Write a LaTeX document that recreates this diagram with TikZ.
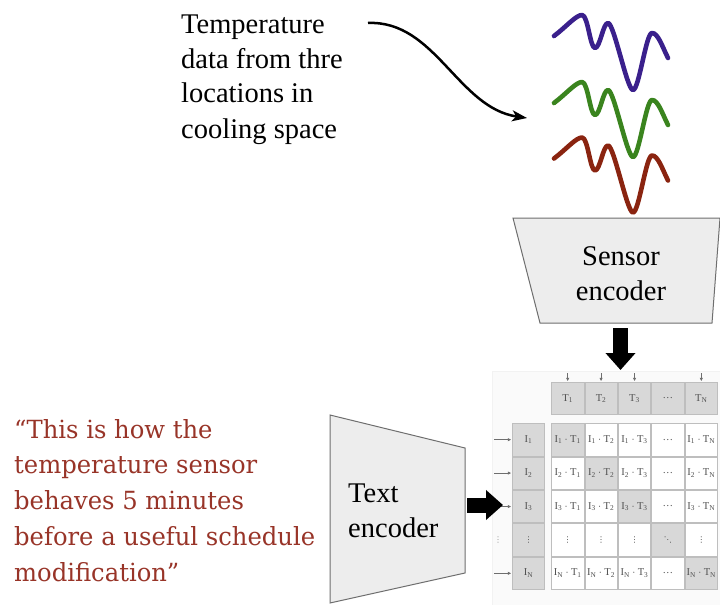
\documentclass[tikz,border=0pt]{standalone}
\usepackage{fontspec}
\setmainfont{Liberation Serif}
\newfontfamily\quotefont[FakeStretch=0.97]{DejaVu Serif}
\newfontfamily\dotsfont{DejaVu Sans}
\usetikzlibrary{arrows.meta}

\definecolor{quotered}{RGB}{152,52,40}
\definecolor{wavepurple}{RGB}{58,32,140}
\definecolor{wavegreen}{RGB}{58,132,30}
\definecolor{wavered}{RGB}{138,36,16}
\definecolor{encfill}{RGB}{237,237,237}
\definecolor{encline}{RGB}{110,110,110}
\definecolor{cellgray}{RGB}{216,216,216}
\definecolor{celledge}{RGB}{190,190,190}
\definecolor{celltext}{RGB}{80,80,80}
\definecolor{feedgray}{RGB}{110,110,110}
\definecolor{matbg}{RGB}{250,250,250}
\definecolor{matedge}{RGB}{242,242,242}

% index 5 stands for the last entry N
\newcommand\ix[1]{\ifnum#1=5 N\else#1\fi}
\newcommand\vdotsglyph{{\dotsfont\fontsize{8}{9}\selectfont ⋮}}
\newcommand\ddotsglyph{{\dotsfont\fontsize{8}{9}\selectfont ⋱}}
% content of a similarity cell (row, column)
\newcommand\simtext[2]{%
  \ifnum#1=4
    \ifnum#2=4 \ddotsglyph\else\vdotsglyph\fi
  \else
    \ifnum#2=4 \ldots\else$\mathrm{I_{\ix{#1}}\cdot T_{\ix{#2}}}$\fi
  \fi}

\tikzset{
  bigtext/.style={inner sep=0pt, font=\fontsize{28.5}{35}\selectfont},
  encoder/.style={fill=encfill, draw=encline, line width=1pt, line join=miter},
  wave/.style={line width=4.6pt, line cap=round, line join=round},
  blockarrow/.style={line width=15pt, -{Triangle[length=17pt,width=29pt]}},
  cell/.style={draw=celledge, line width=0.8pt, minimum width=32.4pt,
    minimum height=32.4pt, inner sep=0pt, outer sep=0pt, text=celltext,
    font=\fontsize{10.5}{12}\selectfont},
  keycell/.style={cell, fill=cellgray},
  feed/.style={draw=feedgray, line width=0.7pt, shorten >=1pt,
    -{Latex[length=3.5pt,width=3.5pt]}},
}

\begin{document}
\begin{tikzpicture}[x=1pt,y=-1pt]
\useasboundingbox (0,0) rectangle (720,605);

% caption for the sensor signals
\node[bigtext, anchor=base west] (tempnote) at (181,33)
  {\begin{tabular}[t]{@{}l@{}}Temperature\\data from thre\\locations in\\cooling space\end{tabular}};
\coordinate (curvestart) at (368,23);
\coordinate (wavein) at (527,118);
\draw[line width=2.5pt, -{Stealth[length=15pt,width=11pt,inset=4pt]}]
  (curvestart) .. controls (435,20) and (458,108) .. (wavein);

% three temperature traces
\foreach \dy/\col in {0/wavepurple, 67/wavegreen, 122.5/wavered}{
  \draw[wave, \col, shift={(0,\dy)}]
    (554,36) .. controls (566,27) and (576,15) .. (582,15)
    .. controls (588,15) and (590,48) .. (595,48)
    .. controls (600,48) and (603,23) .. (608,23)
    .. controls (614,23) and (627,90) .. (633,90)
    .. controls (639,90) and (646,33) .. (652,33)
    .. controls (658,33) and (662,46) .. (668,58);
}

% sensor encoder
\draw[encoder] (513,218) -- (720,218) -- (712,323) -- (540,323) -- cycle;
\node[bigtext, anchor=base] (senslabel) at (621,265)
  {\begin{tabular}[t]{@{}c@{}}Sensor\\encoder\end{tabular}};
\coordinate (sensout) at (620.5,328);
\coordinate (matrixtop) at (620.5,370);

% text encoder
\draw[encoder] (330,415) -- (465,448) -- (465,573) -- (330,603) -- cycle;
\node[bigtext, anchor=base west] (textlabel) at (348,502)
  {\begin{tabular}[t]{@{}l@{}}Text\\encoder\end{tabular}};
\coordinate (textout) at (467,505);
\coordinate (matrixleft) at (503,505);

% prompt sentence
\node[inner sep=0pt, anchor=base west, text=quotered,
      font=\quotefont\fontsize{25}{35.8}\selectfont] (prompt) at (14,438)
  {\begin{tabular}[t]{@{}l@{}}“This is how the\\temperature sensor\\behaves 5 minutes\\before a useful schedule\\modification”\end{tabular}};

% similarity matrix panel
\fill[matbg] (492,371) rectangle (720,605);
\draw[matedge, line width=0.6pt] (492,605) -- (492,371) -- (720,371);

\foreach \ci in {1,...,5}{
  \node[keycell] (t-\ci) at ({551+(\ci-0.5)*33.4},398.5)
    {\ifnum\ci=4 \ldots\else$\mathrm{T_{\ix{\ci}}}$\fi};
}
\foreach \ri in {1,...,5}{
  \node[keycell] (i-\ri) at (528.5,{423+(\ri-0.5)*33.4})
    {\ifnum\ri=4 \vdotsglyph\else$\mathrm{I_{\ix{\ri}}}$\fi};
  \foreach \ci in {1,...,5}{
    \ifnum\ri=\ci \def\cfill{cellgray}\else\def\cfill{white}\fi
    \node[cell, fill=\cfill] (m-\ri-\ci)
      at ({551+(\ci-0.5)*33.4},{423+(\ri-0.5)*33.4}) {\simtext{\ri}{\ci}};
  }
}

% inputs feeding the matrix
\foreach \ci in {1,2,3,5}{
  \coordinate (tin-\ci) at ([yshift=9pt]t-\ci.north);
  \draw[feed] (tin-\ci) -- (t-\ci.north);
}
\foreach \ri in {1,2,3,5}{
  \coordinate (iin-\ri) at ([xshift=-18pt]i-\ri.west);
  \draw[feed] (iin-\ri) -- (i-\ri.west);
}
\node[text=celltext!60, inner sep=0pt] (idots) at (498,539.9) {\vdotsglyph};

% embeddings passed to the matrix
\draw[blockarrow] (sensout) -- (matrixtop);
\draw[blockarrow] (textout) -- (matrixleft);
\end{tikzpicture}
\end{document}
